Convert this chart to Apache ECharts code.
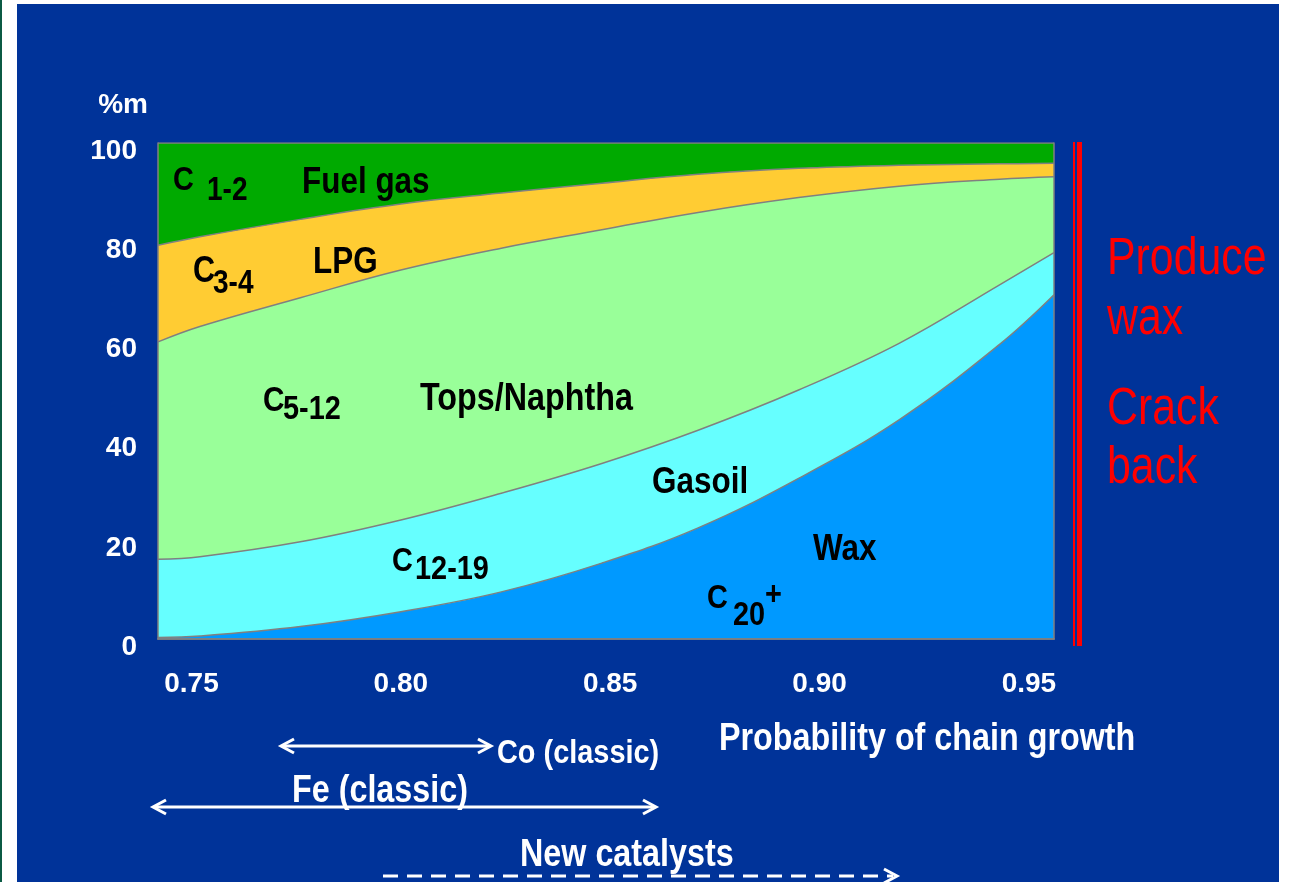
<!DOCTYPE html>
<html>
<head>
<meta charset="utf-8">
<script src="https://cdn.jsdelivr.net/npm/echarts@6/dist/echarts.min.js"></script>
<style>
  html, body { margin: 0; padding: 0; background: #ffffff; }
  .stripe { position: absolute; left: 0; top: 0; width: 2px; height: 882px; background: #0b5a44; }
  .panel { position: absolute; left: 17px; top: 4px; width: 1262px; height: 878px; background: #003399; }
  #chart { position: absolute; left: 0; top: 0; width: 1294px; height: 882px; }
</style>
</head>
<body>
<div class="stripe"></div>
<div class="panel"></div>
<div id="chart"></div>
<script>
// probability of chain growth (x positions where the boundaries were read)
const alpha = [0.742, 0.752, 0.776, 0.800, 0.824, 0.848, 0.871, 0.895, 0.919, 0.943, 0.956];
// cumulative %m, upper edge of each band (top band first)
const fuelGasTop = [100, 100, 100, 100, 100, 100, 100, 100, 100, 100, 100];
const lpgTop     = [79.4, 81.1, 84.6, 87.7, 89.9, 91.9, 93.7, 94.9, 95.5, 95.8, 95.9];
const naphthaTop = [59.9, 63.0, 68.8, 74.4, 78.8, 82.5, 86.0, 89.0, 91.3, 92.7, 93.2];
const gasoilTop  = [16.1, 16.6, 19.6, 24.0, 29.4, 35.4, 42.1, 50.2, 59.6, 71.4, 77.9];
const waxTop     = [0.3, 0.6, 2.5, 5.5, 9.5, 15.3, 22.4, 32.4, 44.2, 59.4, 69.4];
const xTicks = [0.75, 0.80, 0.85, 0.90, 0.95];

const bandNames  = ["Fuel gas", "LPG", "Tops/Naphtha", "Gasoil", "Wax"];
const bandTops   = [fuelGasTop, lpgTop, naphthaTop, gasoilTop, waxTop];
const bandColors = ["#00aa00", "#ffcc33", "#99ff99", "#66ffff", "#0099ff"];

const FONT = "'Liberation Sans', Arial, sans-serif";
const GREY = "#808080";

const chart = echarts.init(document.getElementById("chart"));

// narrow-looking label: squeeze the text horizontally
function txt(text, x, y, size, opts) {
    opts = opts || {};
    return {
        type: "text",
        x: x,
        y: y,
        scaleX: opts.sx || 0.85,
        z: 100,
        style: {
            text: text,
            fill: opts.fill || "#000",
            font: (opts.weight || "bold") + " " + size + "px " + FONT,
            textAlign: "left",
            textVerticalAlign: "middle",
        },
    };
}

function chevron(x, y, dir) {
    return {
        type: "polyline",
        z: 100,
        shape: { points: [[x - dir * 13, y - 7], [x, y], [x - dir * 13, y + 7]] },
        style: { stroke: "#fff", lineWidth: 3, fill: null },
    };
}

function hline(x1, x2, y, dash) {
    return {
        type: "line",
        z: 100,
        shape: { x1: x1, y1: y, x2: x2, y2: y },
        style: { stroke: "#fff", lineWidth: 3, lineDash: dash || null },
    };
}

const red = { fill: "#ff0000", weight: "normal", sx: 0.84 };

const option = {
    animation: false,
    backgroundColor: "transparent",
    grid: { left: 158, right: 240, top: 143, bottom: 243, containLabel: false },
    xAxis: [
        {
            type: "value",
            min: 0.742,
            max: 0.956,
            z: 5,
            axisLine: { show: true, lineStyle: { color: GREY, width: 1.5 } },
            axisTick: { show: false },
            splitLine: { show: false },
            axisLabel: {
                customValues: xTicks,
                formatter: (v) => v.toFixed(2),
                color: "#fff",
                fontWeight: "bold",
                fontSize: 28,
                fontFamily: FONT,
                margin: 31,
            },
        },
        {
            type: "value",
            position: "top",
            min: 0.742,
            max: 0.956,
            z: 5,
            axisLine: { show: true, lineStyle: { color: GREY, width: 1.5 } },
            axisTick: { show: false },
            axisLabel: { show: false },
            splitLine: { show: false },
        },
    ],
    yAxis: [
        {
            type: "value",
            min: 0,
            max: 100,
            interval: 20,
            z: 5,
            name: "%m",
            nameLocation: "end",
            nameGap: 24,
            nameTextStyle: {
                color: "#fff",
                fontWeight: "bold",
                fontSize: 28,
                fontFamily: FONT,
                align: "right",
                padding: [0, 10, 0, 0],
            },
            axisLine: { show: true, lineStyle: { color: GREY, width: 1.5 } },
            axisTick: { show: false },
            splitLine: { show: false },
            axisLabel: {
                color: "#fff",
                fontWeight: "bold",
                fontSize: 28,
                fontFamily: FONT,
                margin: 21,
                verticalAlign: "top",
                lineHeight: 16,
            },
        },
        {
            type: "value",
            position: "right",
            min: 0,
            max: 100,
            z: 5,
            axisLine: { show: true, lineStyle: { color: GREY, width: 1.5 } },
            axisTick: { show: false },
            axisLabel: { show: false },
            splitLine: { show: false },
        },
    ],
    series: bandNames.map((name, k) => ({
        name: name,
        type: "line",
        data: alpha.map((a, i) => [a, bandTops[k][i]]),
        smooth: 0.4,
        symbol: "none",
        lineStyle: { color: GREY, width: 1.5 },
        areaStyle: { color: bandColors[k], opacity: 1, origin: "start" },
        z: 2 + k * 0.01,
    })),
    graphic: [
        // labels inside the bands
        txt("C", 173, 181, 34),
        txt("1-2", 207, 191, 33),
        txt("Fuel gas", 302, 183, 37),
        txt("C", 193, 272, 36),
        txt("3-4", 213, 284, 33),
        txt("LPG", 313, 263, 37),
        txt("C", 263, 401, 35),
        txt("5-12", 283, 410, 34),
        txt("Tops/Naphtha", 420, 400, 38),
        txt("Gasoil", 652, 483, 37),
        txt("C", 392, 562, 34),
        txt("12-19", 415, 570, 34),
        txt("Wax", 813, 550, 37),
        txt("C", 707, 599, 34),
        txt("20", 733, 616, 34),
        txt("+", 765, 596, 34),
        // axis title
        txt("Probability of chain growth", 719, 740, 38, { fill: "#fff" }),
        // red bracket and notes
        { type: "rect", z: 100, shape: { x: 1073, y: 142, width: 2, height: 504 }, style: { fill: "#ff0000" } },
        { type: "rect", z: 100, shape: { x: 1077, y: 142, width: 5, height: 504 }, style: { fill: "#ff0000" } },
        txt("Produce", 1107, 260, 51, red),
        txt("wax", 1107, 320, 51, red),
        txt("Crack", 1107, 410, 51, red),
        txt("back", 1107, 469, 51, red),
        // catalyst ranges
        hline(282, 490, 746),
        chevron(281, 746, -1),
        chevron(491, 746, 1),
        txt("Co (classic)", 497, 754, 34, { fill: "#fff" }),
        hline(154, 655, 807),
        chevron(153, 807, -1),
        chevron(656, 807, 1),
        txt("Fe (classic)", 292, 792, 38, { fill: "#fff" }),
        txt("New catalysts", 520, 856, 38, { fill: "#fff" }),
        hline(383, 893, 876, [15, 9]),
        chevron(897, 876, 1),
    ],
};

chart.setOption(option);
window.addEventListener("resize", () => {
    chart.resize();
});
</script>
</body>
</html>
